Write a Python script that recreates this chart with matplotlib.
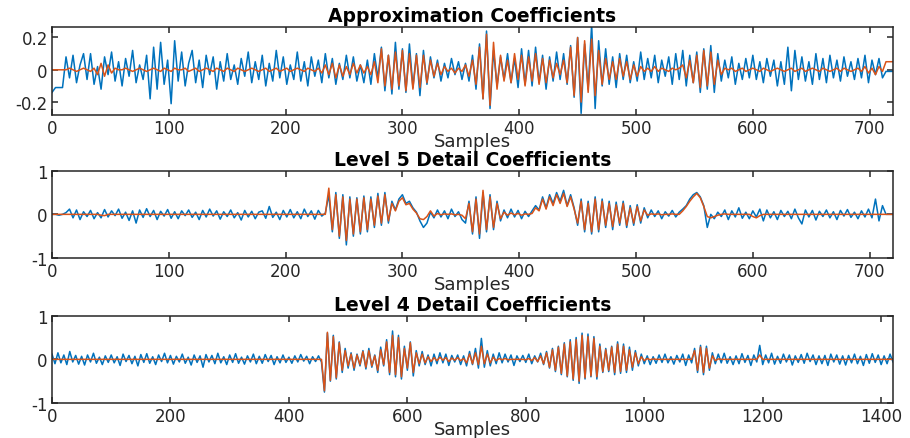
import numpy as np
import matplotlib
matplotlib.use('Agg')
import matplotlib.pyplot as plt

plt.rcParams['font.family'] = ['DejaVu Sans']
plt.rcParams['axes.unicode_minus'] = False

BLUE = '#0072BD'
ORANGE = '#D95319'

# ---------------- data (values in hundredths) ----------------
# Approximation coefficients, one value every 3 samples (0..720)
approx_blue = [
    -14, -11, -11, -11, 8, -5, 9, -8, 3, 10,
    -6, 10, -9, 2, -12, 8, -3, 11, -7, 5,
    -10, 7, -4, 12, -8, 3, -6, 9, -18, 14,
    -12, 17, -9, 6, -21, 18, -7, 11, -10, 4,
    12, -8, 6, -11, 9, -3, 8, -12, 5, -7,
    10, -6, 3, -9, 7, -4, 11, -8, 5, -6,
    9, -10, 4, -7, 12, -5, 8, -9, 3, -6,
    11, -7, 5, -10, 8, -4, 6, -8, 10, -5,
    7, -9, 4, -6, 9, -5, 8, -7, 3, -8,
    6, -9, 10, -5, 14, -13, 9, -15, 17, -12,
    13, -14, 16, -11, 10, -16, 12, -9, 8, -5,
    6, -7, 4, -5, 7, -3, 5, -6, 4, -7,
    9, -12, 16, -18, 24, -24, 12, -10, 8, -6,
    10, -8, 7, -11, 13, -9, 12, -10, 14, -8,
    9, -12, 8, -7, 11, -6, 10, -9, 15, -17,
    20, -27, 16, -12, 28, -24, 18, -10, 13, -9,
    8, -11, 10, -6, 9, -8, 5, -7, 11, -6,
    7, -5, 9, -8, 6, -4, 8, -9, 10, -6,
    12, -10, 9, -8, 11, -14, 13, -12, 15, -14,
    10, -7, 6, -5, 8, -9, 4, -6, 7, -5,
    9, -6, 5, -8, 7, -4, 6, -10, 5, -9,
    14, -13, 12, -6, 8, -7, 5, -9, 10, -6,
    7, -8, 9, -5, 6, -7, 8, -4, 5, -6,
    7, -5, 9, -8, 6, -3, 7, -5, -1, -1,
    -1,
]
approx_orange = [
    0, 0, 0, 0, 0, 1, 0, -1, 0, 1,
    0, -1, 1, -3, 4, -4, 3, -2, 1, 0,
    0, 1, 0, -1, 0, 1, 0, -1, 0, 1,
    0, -1, 1, 0, -1, 1, 0, 0, 1, -1,
    0, 1, -1, 0, 1, 0, -1, 1, 0, -1,
    1, 0, -1, 1, 0, -1, 0, 1, 0, -1,
    0, 1, -1, 0, 1, -1, 0, 1, -1, 0,
    1, 0, -1, 1, 0, -1, 1, -2, 3, -3,
    4, -5, 3, -4, 2, -3, 4, -2, 3, -2,
    2, -3, 5, -8, 13, -10, 9, -12, 11, -10,
    12, -13, 10, -12, 9, -11, 9, -8, 6, -4,
    4, -3, 2, -1, 1, -2, 1, -1, 3, -4,
    6, -9, 14, -18, 22, -22, 17, -12, 9, -7,
    6, -8, 10, -6, 9, -10, 8, -7, 10, -9,
    7, -8, 6, -5, 4, -3, 6, -8, 14, -16,
    20, -20, 18, -14, 19, -16, 12, -9, 7, -6,
    5, -6, 7, -4, 5, -6, 3, -4, 2, -1,
    1, -1, 2, -1, 1, 0, -1, 1, 0, 1,
    3, -5, 6, -8, 9, -11, 12, -10, 11, -9,
    6, -3, 1, 0, 1, -1, 0, 1, -1, 0,
    1, 0, -1, 1, 0, -1, 0, 1, 0, -1,
    0, 1, -1, 0, 1, -1, 0, 1, 0, -1,
    1, 0, -1, 0, 1, -1, 1, 0, -1, 0,
    1, -1, 2, -2, 1, -3, 2, -1, 5, 5,
    5,
]

# Level 5 detail coefficients, one value every 3 samples (0..720)
level5_blue = [
    0, 0, -2, 0, 4, 12, -8, 10, -12, 6,
    -5, 9, -10, 4, -8, 11, -6, 8, -3, 12,
    -9, 5, -14, 8, -20, 10, -7, 13, -5, 9,
    -12, 7, -4, 11, -9, 6, -10, 8, -3, 10,
    -7, 5, -12, 9, -6, 12, -4, 8, -11, 6,
    -5, 10, -8, 4, -13, 9, -6, 7, -10, 5,
    8, -9, 18, -7, 5, -12, 9, -6, 11, -8,
    6, -10, 12, -5, 8, -11, 9, -4, 3, 45,
    -40, 50, -55, 45, -70, 40, -50, 38, -45, 42,
    -40, 40, -30, 48, -25, 50, -20, 30, 10, 35,
    45, 25, 30, 15, 5, -15, -30, -20, 5, -8,
    10, -6, 8, -10, 12, -5, 6, -12, -20, 30,
    -45, 40, -55, 50, -40, 45, -35, 30, -15, 10,
    -8, 12, -6, 9, -10, 7, -5, 8, 20, 10,
    40, 15, 45, 25, 50, 30, 55, 20, 45, 15,
    -25, 35, -40, 30, -45, 40, -40, 35, -30, 30,
    -35, 28, -25, 30, -30, 20, -25, 22, -20, 15,
    -8, 10, -5, 8, -10, 6, -4, 9, -6, 5,
    12, 20, 35, 45, 50, 40, 20, -30, 0, -10,
    5, -5, 10, -12, 8, -6, 15, -9, 5, -10,
    8, -6, 12, -15, 10, -8, 6, -12, 9, -5,
    7, -10, 12, -8, -22, 10, -6, 9, -13, 7,
    -5, 10, -8, 6, -12, 9, -4, 11, -7, 5,
    -10, 8, -6, 12, -8, 35, -15, 20, 0, 0,
    0,
]
level5_orange = [
    0, 0, 0, 0, 0, 0, 0, 0, 0, 0,
    0, 0, 0, 0, -2, -3, 0, 0, 0, 0,
    0, 0, 0, 0, 0, 0, 0, 0, 0, 0,
    0, 0, 0, 0, 0, 0, 0, 0, 0, 0,
    0, 0, 0, 0, 0, 0, 0, 0, 0, 0,
    0, 0, 0, 0, 0, 0, 0, 0, 0, 0,
    0, 0, 0, 0, 0, 0, 0, 0, 0, 0,
    0, 0, 0, 0, 0, 0, 0, 0, 0, 60,
    -35, 45, -50, 40, -60, 35, -45, 35, -40, 38,
    -35, 35, -25, 42, -20, 45, -15, 25, 8, 30,
    38, 22, 25, 12, 3, -10, -12, -5, 8, -4,
    2, -1, 1, 0, 1, -1, 0, -2, -10, 25,
    -40, 35, -45, 55, -35, 40, -30, 25, -10, 5,
    -2, 3, -1, 2, -2, 1, 0, 2, 15, 8,
    35, 12, 40, 20, 45, 25, 48, 18, 40, 12,
    -20, 30, -35, 25, -40, 35, -35, 30, -25, 25,
    -28, 22, -20, 25, -25, 15, -20, 18, -15, 10,
    -2, 1, 0, 1, -1, 0, 0, 1, 0, 0,
    8, 18, 30, 40, 48, 38, 18, -5, -8, -5,
    -2, 0, 1, 0, 0, 0, 0, 0, 0, 0,
    -5, -8, -3, 0, 0, 0, 0, 0, 0, 0,
    0, 0, 0, 0, 0, 0, 0, 0, 0, 0,
    0, 0, 0, 0, 0, 0, 0, 0, 0, 0,
    0, 0, 0, 0, 0, 0, 0, 0, 0, 0,
    0,
]

# Level 4 detail coefficients, one value every 5 samples (0..1420)
level4_blue = [
    12, -10, 15, -8, 10, -12, 18, -6, 9, -11,
    7, -13, 10, -6, 14, -9, 5, -12, 8, -7,
    10, -8, 6, -14, 12, -5, 9, -10, 7, -15,
    11, -7, 13, -9, 6, -12, 10, -5, 14, -8,
    9, -11, 7, -6, 12, -9, 5, -13, 10, -7,
    8, -18, 11, -6, 9, -10, 14, -8, 6, -12,
    10, -7, 13, -9, 5, -11, 8, -6, 12, -10,
    7, -9, 11, -5, 9, -12, 6, -8, 10, -7,
    5, -9, 8, -6, 11, -4, 7, -10, 6, -5,
    8, -6, -75, 60, -50, 55, -45, 40, -30, 25,
    -20, 15, -25, 12, -15, 20, -22, 25, -18, 10,
    -30, 28, -15, 45, -35, 65, -40, 55, -45, 30,
    -25, 40, -38, 20, -15, 18, -12, 10, -15, 12,
    -10, 15, -8, 12, -14, 9, -6, 10, -12, 8,
    -15, 18, -12, 25, -20, 48, -18, 20, -15, 12,
    -10, 15, -8, 12, -6, 10, -14, 8, -5, 9,
    -7, 12, -10, 8, -6, 14, -12, 18, -20, 25,
    -28, 30, -35, 38, -40, 45, -48, 50, -55, 60,
    -45, 58, -40, 52, -45, 35, -30, 25, -28, 30,
    -35, 40, -32, 35, -30, 28, -25, 20, -15, 12,
    -10, 8, -12, 6, -9, 10, -7, 12, -8, 6,
    -11, 9, -6, 12, -14, 10, -8, 25, -30, 32,
    -35, 30, -25, 15, -10, 12, -8, 14, -9, 6,
    -12, 8, -10, 13, -7, 9, -14, 10, -6, 32,
    -12, 10, -8, 14, -11, 7, -9, 12, -6, 10,
    -13, 8, -7, 11, -9, 14, -5, 10, -12, 8,
    -10, 9, -14, 12, -6, 10, -11, 8, -13, 9,
    -8, 12, -10, 7, -14, 11, -9, 13, -7, 10,
    -12, 8, -10, 12, -6,
]
level4_orange = [0] * 90 + [
    0, 0, -72, 62, -48, 52, -42, 38, -25, 20,
    -15, 12, -20, 10, -12, 18, -18, 20, -15, 8,
    -25, 22, -12, 40, -30, 55, -35, 50, -40, 25,
    -20, 38, -30, 15, -10, 12, -8, 6, -5, 4,
    -3, 5, -2, 4, -5, 3, -2, 4, -3, 2,
    -8, 12, -10, 15, -12, 30, -10, 12, -8, 5,
    -3, 2, -1, 2, -1, 0, 0, 0, 0, 0,
    -1, 2, -3, 4, -5, 8, -10, 15, -18, 22,
    -25, 28, -32, 35, -38, 40, -45, 45, -50, 55,
    -42, 52, -38, 48, -40, 30, -28, 22, -25, 28,
    -30, 35, -28, 30, -25, 22, -18, 15, -10, 6,
    -3, 2, -1, 1, 0, 0, 0, 0, 0, 0,
    0, 0, 0, 0, 0, 0, 0, 20, -25, 28,
    -30, 25, -20, 8, -3, 1, 0, 0, 0, 0,
    0, 0, 0, 0, 0, 0, 0, 0, 0, 10,
] + [0] * 45

titles = ['Approximation Coefficients', 'Level 5 Detail Coefficients',
          'Level 4 Detail Coefficients']
x_max = [720, 720, 1420]
y_lims = [(-0.28, 0.265), (-1, 1), (-1, 1)]
x_ticks = [list(range(0, 701, 100)), list(range(0, 701, 100)),
           list(range(0, 1401, 200))]
y_ticks = [[-0.2, 0, 0.2], [-1, 0, 1], [-1, 0, 1]]
y_ticklabels = [['-0.2', '0', '0.2'], ['-1', '0', '1'], ['-1', '0', '1']]
series = [(approx_blue, approx_orange), (level5_blue, level5_orange),
          (level4_blue, level4_orange)]

# ---------------- figure ----------------
fig = plt.figure(figsize=(9.1, 4.39), dpi=100)
W, H = 910, 439
boxes = [(52, 28, 893, 116), (52, 171.7, 893, 259), (52, 316.7, 893, 404)]

for k in range(3):
    l, t, r, b = boxes[k]
    ax = fig.add_axes([l / W, 1 - b / H, (r - l) / W, (b - t) / H])
    blue = np.array(series[k][0]) / 100.0
    orange = np.array(series[k][1]) / 100.0
    xb = np.linspace(0, x_max[k], len(blue))
    xo = np.linspace(0, x_max[k], len(orange))
    ax.plot(xb, blue, color=BLUE, lw=1.1)
    ax.plot(xo, orange, color=ORANGE, lw=1.1)
    ax.set_xlim(0, x_max[k])
    ax.set_ylim(*y_lims[k])
    ax.set_xticks(x_ticks[k])
    ax.set_yticks(y_ticks[k])
    ax.set_yticklabels(y_ticklabels[k])
    ax.tick_params(direction='in', top=True, right=True, length=4,
                   width=1.1, labelsize=12, pad=3, colors='#262626')
    for s in ax.spines.values():
        s.set_linewidth(1.1)
        s.set_color('#262626')
    ax.set_title(titles[k], fontsize=13.5, fontweight='bold', pad=4)
    ax.set_xlabel('Samples', fontsize=13, labelpad=-3.5, color='#262626')

fig.savefig('out.png', dpi=100)
